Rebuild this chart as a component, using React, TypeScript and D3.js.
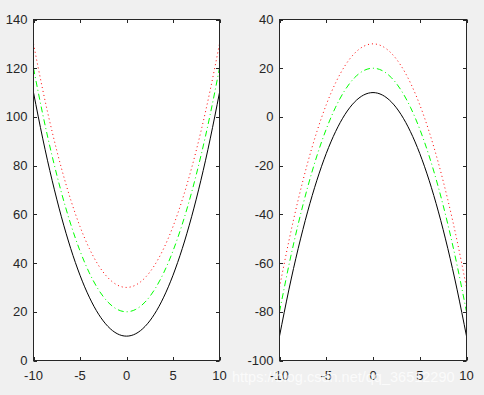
import { useEffect, useRef } from "react";
import * as d3 from "d3";

// sample points
const xs = [-10, -9, -8, -7, -6, -5, -4, -3, -2, -1, 0, 1, 2, 3, 4, 5, 6, 7, 8, 9, 10];

const leftBlack = [110, 91, 74, 59, 46, 35, 26, 19, 14, 11, 10, 11, 14, 19, 26, 35, 46, 59, 74, 91, 110];
const leftGreen = [120, 101, 84, 69, 56, 45, 36, 29, 24, 21, 20, 21, 24, 29, 36, 45, 56, 69, 84, 101, 120];
const leftRed = [130, 111, 94, 79, 66, 55, 46, 39, 34, 31, 30, 31, 34, 39, 46, 55, 66, 79, 94, 111, 130];

const rightBlack = [-90, -71, -54, -39, -26, -15, -6, 1, 6, 9, 10, 9, 6, 1, -6, -15, -26, -39, -54, -71, -90];
const rightGreen = [-80, -61, -44, -29, -16, -5, 4, 11, 16, 19, 20, 19, 16, 11, 4, -5, -16, -29, -44, -61, -80];
const rightRed = [-70, -51, -34, -19, -6, 5, 14, 21, 26, 29, 30, 29, 26, 21, 14, 5, -6, -19, -34, -51, -70];

const xTicks = [-10, -5, 0, 5, 10];
const leftYTicks = [0, 20, 40, 60, 80, 100, 120, 140];
const rightYTicks = [-100, -80, -60, -40, -20, 0, 20, 40];

const App = () => {
  const svgRef = useRef<SVGSVGElement>(null);

  useEffect(() => {
    const svg = d3.select(svgRef.current);
    svg.selectAll("*").remove();
    const w = 484;
    const h = 395;

    svg.append("rect").attr("width", w).attr("height", h).attr("fill", "#f0f0f0");

    const ink = "#262626";
    const font = "Arial, 'Liberation Sans', Helvetica, sans-serif";

    const drawPanel = (
      id: string,
      x0: number,
      x1: number,
      yDomain: [number, number],
      yTicks: number[],
      series: { vals: number[]; color: string; dash: string | null }[]
    ) => {
      const top = 19.5;
      const bottom = 360.5;
      const xScale = d3.scaleLinear().domain([-10, 10]).range([x0, x1]);
      const yScale = d3.scaleLinear().domain(yDomain).range([bottom, top]);

      const g = svg.append("g");
      g.append("rect")
        .attr("x", x0)
        .attr("y", top)
        .attr("width", x1 - x0)
        .attr("height", bottom - top)
        .attr("fill", "#fff");

      svg.append("clipPath")
        .attr("id", id)
        .append("rect")
        .attr("x", x0)
        .attr("y", top)
        .attr("width", x1 - x0)
        .attr("height", bottom - top);

      const line = d3
        .line<number>()
        .x((_, i) => xScale(xs[i]))
        .y((d) => yScale(d))
        .curve(d3.curveNatural);

      const lines = g.append("g").attr("clip-path", `url(#${id})`);
      series.forEach((s) => {
        lines
          .append("path")
          .attr("d", line(s.vals))
          .attr("fill", "none")
          .attr("stroke", s.color)
          .attr("stroke-width", 1)
          .attr("stroke-dasharray", s.dash);
      });

      // box
      g.append("rect")
        .attr("x", x0)
        .attr("y", top)
        .attr("width", x1 - x0)
        .attr("height", bottom - top)
        .attr("fill", "none")
        .attr("stroke", ink)
        .attr("stroke-width", 1);

      const tl = 3.5;
      xTicks.forEach((t) => {
        const x = Math.round(xScale(t)) + 0.5;
        g.append("line").attr("x1", x).attr("x2", x).attr("y1", bottom).attr("y2", bottom - tl).attr("stroke", ink);
        g.append("line").attr("x1", x).attr("x2", x).attr("y1", top).attr("y2", top + tl).attr("stroke", ink);
        g.append("text")
          .attr("x", xScale(t))
          .attr("y", 380)
          .attr("text-anchor", "middle")
          .attr("font-family", font)
          .attr("font-size", 13)
          .attr("fill", ink)
          .text(t);
      });
      yTicks.forEach((t) => {
        const y = Math.round(yScale(t)) + 0.5;
        g.append("line").attr("x1", x0).attr("x2", x0 + tl).attr("y1", y).attr("y2", y).attr("stroke", ink);
        g.append("line").attr("x1", x1).attr("x2", x1 - tl).attr("y1", y).attr("y2", y).attr("stroke", ink);
        g.append("text")
          .attr("x", x0 - 6)
          .attr("y", yScale(t) + 4.5)
          .attr("text-anchor", "end")
          .attr("font-family", font)
          .attr("font-size", 13)
          .attr("fill", ink)
          .text(t);
      });
    };

    drawPanel("clipL", 33.5, 219.5, [0, 140], leftYTicks, [
      { vals: leftBlack, color: "#000", dash: null },
      { vals: leftGreen, color: "#00ff00", dash: "6,3,1,3" },
      { vals: leftRed, color: "#ff0000", dash: "1,3" },
    ]);
    drawPanel("clipR", 279.5, 466.5, [-100, 40], rightYTicks, [
      { vals: rightBlack, color: "#000", dash: null },
      { vals: rightGreen, color: "#00ff00", dash: "6,3,1,3" },
      { vals: rightRed, color: "#ff0000", dash: "1,3" },
    ]);

    // watermark
    svg.append("text")
      .attr("x", 232)
      .attr("y", 382)
      .attr("font-family", "Arial, 'Liberation Sans', sans-serif")
      .attr("font-size", 14.5)
      .attr("fill", "#ffffff")
      .attr("fill-opacity", 0.75)
      .text("https://blog.csdn.net/qq_36512290");
  }, []);

  return (
    <svg
      ref={svgRef}
      width={484}
      height={395}
      style={{ position: "absolute", left: 0, top: 0, display: "block" }}
    />
  );
};

export default App;
